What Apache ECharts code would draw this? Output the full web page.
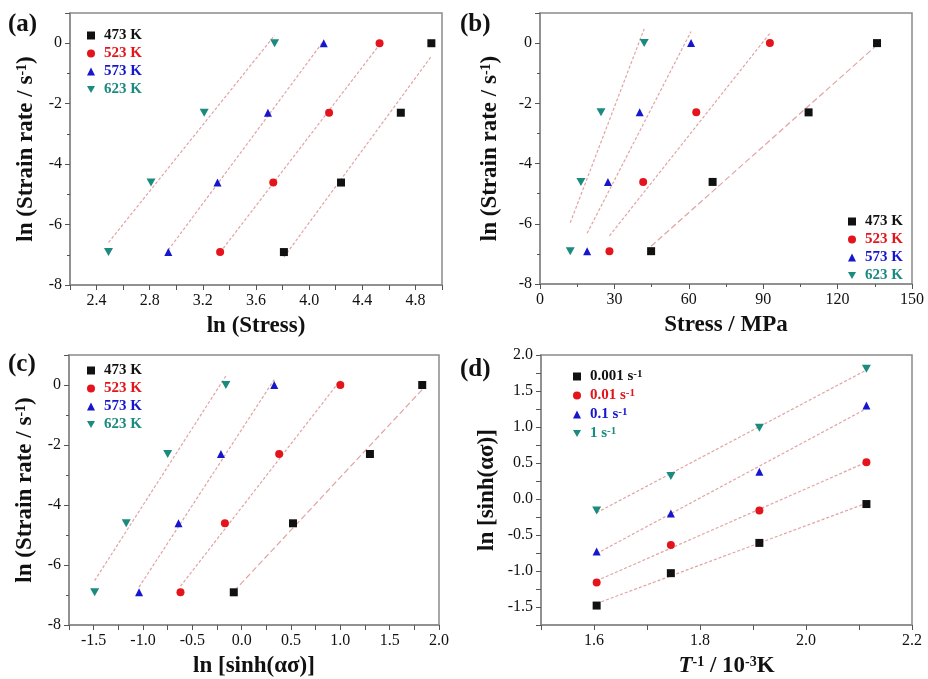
<!DOCTYPE html>
<html>
<head>
<meta charset="utf-8">
<script src="https://cdn.jsdelivr.net/npm/echarts@6/dist/echarts.min.js"></script>
<style>
  html, body { margin: 0; padding: 0; background: #fff; }
  #main { width: 928px; height: 679px; }
</style>
</head>
<body>
<div id="main"></div>
<script>
// ln(strain rate) levels: 0.001, 0.01, 0.1, 1 s-1
var lnRate = [-6.91, -4.61, -2.30, 0];

// (a) ln(stress)
var lnStress473 = [3.81, 4.24, 4.69, 4.92];
var lnStress523 = [3.33, 3.73, 4.15, 4.53];
var lnStress573 = [2.94, 3.31, 3.69, 4.11];
var lnStress623 = [2.49, 2.81, 3.21, 3.74];

// (b) stress / MPa
var stress473 = [44.8, 69.6, 108.3, 135.9];
var stress523 = [28.0, 41.6, 63.0, 92.7];
var stress573 = [19.0, 27.4, 40.2, 60.9];
var stress623 = [12.2, 16.5, 24.6, 42.0];

// (c) ln[sinh(alpha sigma)]
var lnSinh473 = [-0.08, 0.52, 1.30, 1.83];
var lnSinh523 = [-0.62, -0.17, 0.38, 1.00];
var lnSinh573 = [-1.04, -0.64, -0.21, 0.33];
var lnSinh623 = [-1.49, -1.17, -0.75, -0.16];

// (d) 1/T vs ln[sinh(alpha sigma)]
var invT = [1.605, 1.745, 1.912, 2.114];
var sinhRate0001 = [-1.48, -1.03, -0.61, -0.07];
var sinhRate001 = [-1.16, -0.64, -0.16, 0.51];
var sinhRate01 = [-0.73, -0.20, 0.38, 1.30];
var sinhRate1 = [-0.16, 0.32, 0.99, 1.81];

var tempNames = ['473 K', '523 K', '573 K', '623 K'];
var rateNames = ['0.001 s-1', '0.01 s-1', '0.1 s-1', '1 s-1'];

var colors = ['#111111', '#e3141b', '#1616cc', '#1b8a7f'];
var symbols = ['rect', 'circle', 'triangle', 'path://M0,0L10,0L5,9Z'];
var fitColor = '#e2a3a3';
var serif = 'Liberation Serif';

// least squares line over the data range
function fitLine(xs, ys) {
    var n = xs.length, mx = 0, my = 0;
    for (var i = 0; i < n; i++) { mx += xs[i]; my += ys[i]; }
    mx /= n; my /= n;
    var sxy = 0, sxx = 0;
    for (var i = 0; i < n; i++) {
        sxy += (xs[i] - mx) * (ys[i] - my);
        sxx += (xs[i] - mx) * (xs[i] - mx);
    }
    var k = sxy / sxx;
    var x0 = Math.min.apply(null, xs), x1 = Math.max.apply(null, xs);
    return [[x0, my + k * (x0 - mx)], [x1, my + k * (x1 - mx)]];
}

var series = [];

function addGroup(idx, names, xsList, ysList) {
    for (var i = 0; i < 4; i++) {
        var xs = xsList[i], ys = ysList[i];
        var pts = xs.map(function (x, j) { return [x, ys[j]]; });
        series.push({
            name: 'fit' + idx + '-' + i,
            type: 'line',
            xAxisIndex: idx, yAxisIndex: idx,
            data: fitLine(xs, ys),
            symbol: 'none',
            silent: true,
            z: 1,
            lineStyle: { color: fitColor, width: 1.2, type: i === 0 && idx !== 0 && idx !== 3 ? [6, 3] : [3, 2] }
        });
        series.push({
            name: names[i],
            type: 'scatter',
            xAxisIndex: idx, yAxisIndex: idx,
            data: pts,
            symbol: symbols[i],
            symbolSize: i === 3 ? [9, 8] : 8,
            itemStyle: { color: colors[i], opacity: 1 },
            z: 3
        });
    }
}

addGroup(0, tempNames, [lnStress473, lnStress523, lnStress573, lnStress623], [lnRate, lnRate, lnRate, lnRate]);
addGroup(1, tempNames, [stress473, stress523, stress573, stress623], [lnRate, lnRate, lnRate, lnRate]);
addGroup(2, tempNames, [lnSinh473, lnSinh523, lnSinh573, lnSinh623], [lnRate, lnRate, lnRate, lnRate]);
addGroup(3, rateNames, [invT, invT, invT, invT], [sinhRate0001, sinhRate001, sinhRate01, sinhRate1]);

var supRich = {
    sup: { fontFamily: serif, fontWeight: 'bold', fontSize: 14, verticalAlign: 'top', color: '#111' },
    it: { fontFamily: serif, fontWeight: 'bold', fontStyle: 'italic', fontSize: 23, color: '#111' }
};

function valueAxis(gridIndex, min, max, interval, name, nameGap, labelFn, minor) {
    return {
        type: 'value',
        gridIndex: gridIndex,
        min: min, max: max, interval: interval,
        name: name,
        nameLocation: 'middle',
        nameGap: nameGap,
        nameTextStyle: { fontFamily: serif, fontWeight: 'bold', fontSize: 23, color: '#111', rich: supRich },
        axisLine: { show: true, onZero: false, lineStyle: { color: '#8a8a8a', width: 1.5 } },
        axisTick: { show: true, inside: false, length: 5, lineStyle: { color: '#555' } },
        minorTick: { show: !!minor, splitNumber: 2, length: 3, lineStyle: { color: '#555' } },
        splitLine: { show: false },
        axisLabel: { color: '#111', fontFamily: serif, fontSize: 16, margin: 8, formatter: labelFn }
    };
}

function every(step, digits) {
    return function (v) {
        var r = Math.round(v / step * 1000) / 1000;
        if (Math.abs(r - Math.round(r)) > 1e-6) return '';
        return v.toFixed(digits);
    };
}
function intLabel(v) { return v > 0.5 ? '' : String(Math.round(v)); }

var rateTitle = 'ln (Strain rate / s{sup|-1})';

var grids = [
    { left: 70, top: 13, width: 372, height: 272 },
    { left: 540, top: 13, width: 372, height: 271 },
    { left: 69, top: 355, width: 370, height: 272 },
    { left: 541, top: 355, width: 371, height: 271 }
].map(function (g) {
    g.show = true; g.borderColor = '#8a8a8a'; g.borderWidth = 1.5; g.backgroundColor = 'transparent';
    return g;
});

function legendFor(names, pos, gap, fmt) {
    var l = {
        orient: 'vertical',
        itemWidth: 8, itemHeight: 8, itemGap: gap,
        selectedMode: false,
        textStyle: {
            fontFamily: serif, fontWeight: 'bold', fontSize: 15, padding: [0, 0, 0, 4],
            rich: { sup: { fontFamily: serif, fontWeight: 'bold', fontSize: 11, verticalAlign: 'top' } }
        },
        data: names.map(function (n, i) {
            return { name: n, icon: symbols[i], itemStyle: { opacity: 1 }, textStyle: { color: colors[i] } };
        })
    };
    for (var k in pos) l[k] = pos[k];
    if (fmt) l.formatter = fmt;
    return l;
}

var option = {
    backgroundColor: '#fff',
    animation: false,
    grid: grids,
    xAxis: [
        valueAxis(0, 2.2, 5.0, 0.2, 'ln (Stress)', 30, every(0.4, 1), false),
        valueAxis(1, 0, 150, 30, 'Stress / MPa', 30, function (v) { return String(v); }, true),
        valueAxis(2, -1.75, 2.0, 0.25, 'ln [sinh(ασ)]', 30, every(0.5, 1), false),
        valueAxis(3, 1.5, 2.2, 0.1, '{it|T}{sup|-1} / 10{sup|-3}K', 30, every(0.2, 1), false)
    ],
    yAxis: [
        valueAxis(0, -8, 1, 2, rateTitle, 32, intLabel, true),
        valueAxis(1, -8, 1, 2, rateTitle, 38, intLabel, true),
        valueAxis(2, -8, 1, 2, rateTitle, 32, intLabel, true),
        valueAxis(3, -1.75, 2.0, 0.25, 'ln [sinh(ασ)]', 42, every(0.5, 1), false)
    ],
    legend: [
        legendFor(tempNames, { left: 82, top: 23 }, 3),
        legendFor(tempNames, { left: 843, top: 209 }, 3),
        legendFor(tempNames, { left: 82, top: 358 }, 3),
        legendFor(rateNames, { left: 568, top: 364 }, 4, function (n) {
            return n.replace(' s-1', ' s{sup|-1}');
        })
    ],
    graphic: [
        { type: 'text', left: 8, top: 12, style: { text: '(a)', font: 'bold 25px "Liberation Serif"', fill: '#111' } },
        { type: 'text', left: 460, top: 12, style: { text: '(b)', font: 'bold 25px "Liberation Serif"', fill: '#111' } },
        { type: 'text', left: 8, top: 352, style: { text: '(c)', font: 'bold 25px "Liberation Serif"', fill: '#111' } },
        { type: 'text', left: 460, top: 357, style: { text: '(d)', font: 'bold 25px "Liberation Serif"', fill: '#111' } }
    ],
    series: series
};

var myChart = echarts.init(document.getElementById('main'), null, { renderer: 'canvas' });
myChart.setOption(option);
</script>
</body>
</html>
